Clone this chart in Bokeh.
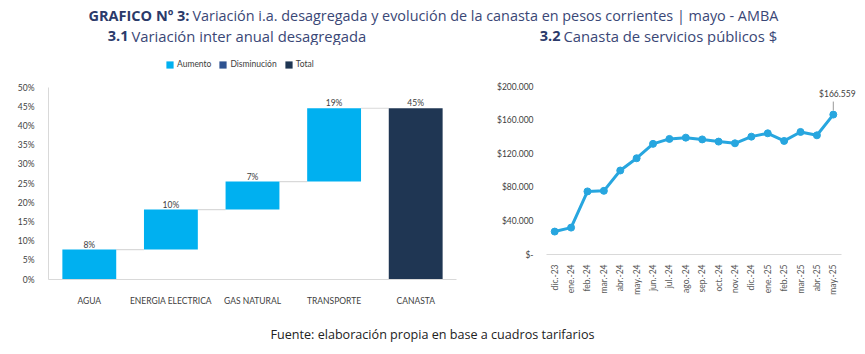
from math import pi
from bokeh.plotting import figure
from bokeh.layouts import column, row
from bokeh.models import (ColumnDataSource, FactorRange, Range1d, Legend, LegendItem,
                          FixedTicker, PrintfTickFormatter, Label)
from bokeh.transform import dodge
from bokeh.core.properties import value
from bokeh.embed import file_html
from bokeh.resources import INLINE

# ---------------- data ----------------
categories = ["AGUA", "ENERGIA ELECTRICA", "GAS NATURAL", "TRANSPORTE"]
increments = [7.8, 10.4, 7.3, 19.1]
decreases = [0, 0, 0, 0]
total_category = "CANASTA"
inc_labels = ["8%", "10%", "7%", "19%"]
total_label = "45%"
y_ticks_pct = [0, 5, 10, 15, 20, 25, 30, 35, 40, 45, 50]

months = ["dic.-23", "ene.-24", "feb.-24", "mar.-24", "abr.-24", "may.-24", "jun.-24",
          "jul.-24", "ago.-24", "sep.-24", "oct.-24", "nov.-24", "dic.-24", "ene.-25",
          "feb.-25", "mar.-25", "abr.-25", "may.-25"]
canasta = [27300, 32000, 75100, 75800, 100000, 114600, 131700, 137600, 139100, 137000,
           134400, 132400, 140300, 144300, 135200, 145900, 141900, 166559]
money_ticks = [0, 40000, 80000, 120000, 160000, 200000]
money_labels = ["$-", "$40.000", "$80.000", "$120.000", "$160.000", "$200.000"]
last_label = "$166.559"

# ---------------- styles ----------------
TITLE_FONT = value("Open Sans")
XL_FONT = value("Lato")
NAVY = "#2b3a6a"
NAVY_REG = "#3a4776"
C_AUM = "#00b0f0"
C_DIS = "#2e5391"
C_TOT = "#1f3653"
C_LINE = "#27a6df"
TXT = "#404040"

def blank(fig):
    fig.axis.visible = False
    fig.grid.visible = False
    fig.outline_line_color = None

# ---------------- header ----------------
hdr = figure(width=865, height=45, x_range=Range1d(0, 865), y_range=Range1d(45, 0),
             output_backend="svg", toolbar_location=None, min_border=0)
blank(hdr)
hdr.text(x=[189], y=[14.5], text=["GRAFICO Nº 3:"],
         text_align="right", text_baseline="middle", text_font=TITLE_FONT,
         text_font_style="bold", text_font_size="14.5px", text_color=NAVY)
hdr.text(x=[192], y=[14.5],
         text=["Variación i.a. desagregada y evolución de la canasta en pesos corrientes | mayo - AMBA"],
         text_align="left", text_baseline="middle", text_font=TITLE_FONT,
         text_font_size="14.4px", text_color=NAVY_REG)
hdr.text(x=[128, 560], y=[35, 35], text=["3.1", "3.2"],
         text_align="right", text_baseline="middle", text_font=TITLE_FONT,
         text_font_style="bold", text_font_size="14.5px", text_color=NAVY)
hdr.text(x=[131, 563], y=[35, 35],
         text=["Variación inter anual desagregada", "Canasta de servicios públicos $"],
         text_align="left", text_baseline="middle", text_font=TITLE_FONT,
         text_font_size="14.8px", text_color=NAVY_REG)

# ---------------- left waterfall ----------------
all_cats = categories + [total_category]
bottoms, tops = [], []
acc = 0.0
for v in increments:
    bottoms.append(acc)
    acc += v
    tops.append(acc)
total_value = acc

# frame extends above the 50% line so that the legend sits inside it
L_TOP, L_BOTTOM, L_AXIS_TOP = 10, 36, 42          # px inside the 270-high figure
frame_h = 270 - L_TOP - L_BOTTOM
y_top_val = 50 * frame_h / (270 - L_AXIS_TOP - L_BOTTOM)

pL = figure(width=470, height=270, x_range=FactorRange(factors=all_cats, range_padding=0),
            y_range=Range1d(0, y_top_val), output_backend="svg", toolbar_location=None,
            min_border_left=48, min_border_right=14, min_border_top=L_TOP,
            min_border_bottom=L_BOTTOM)
pL.grid.visible = False
pL.outline_line_color = None

src_inc = ColumnDataSource(dict(cat=categories, bottom=bottoms, top=tops, label=inc_labels))
src_tot = ColumnDataSource(dict(cat=[total_category], bottom=[0], top=[total_value], label=[total_label]))
src_con = ColumnDataSource(dict(cat=categories, nxt=all_cats[1:], level=tops))
# "Disminución" series: no decreases (zero-height bars)
src_dis = ColumnDataSource(dict(cat=categories, bottom=tops,
                                top=[t - d for t, d in zip(tops, decreases)]))

pL.segment(x0=dodge("cat", 0.33, range=pL.x_range), y0="level",
           x1=dodge("nxt", -0.33, range=pL.x_range), y1="level",
           source=src_con, line_color="#d9d9d9", line_width=1.2)
r_aum = pL.vbar(x="cat", bottom="bottom", top="top", width=0.66, source=src_inc,
                fill_color=C_AUM, line_color=None)
r_dis = pL.vbar(x="cat", bottom="bottom", top="top", width=0.66, source=src_dis,
                fill_color=C_DIS, line_color=None)
r_tot = pL.vbar(x="cat", bottom="bottom", top="top", width=0.66, source=src_tot,
                fill_color=C_TOT, line_color=None)
for s in (src_inc, src_tot):
    pL.text(x="cat", y="top", text="label", source=s, text_align="center",
            text_baseline="alphabetic", y_offset=-5, text_font=XL_FONT,
            text_font_size="8.5px", text_color=TXT)

pL.xaxis.axis_line_color = "#d9d9d9"
pL.xaxis.major_tick_line_color = None
pL.xaxis.minor_tick_line_color = None
pL.xaxis.major_label_standoff = 10
pL.xaxis.major_label_text_font = "Lato"
pL.xaxis.major_label_text_font_size = "8.5px"
pL.xaxis.major_label_text_color = TXT
pL.yaxis.ticker = FixedTicker(ticks=y_ticks_pct)
pL.yaxis.formatter = PrintfTickFormatter(format="%d%%")
pL.yaxis.bounds = (0, 50)
pL.yaxis.axis_line_color = "#d9d9d9"
pL.yaxis.major_tick_line_color = None
pL.yaxis.minor_tick_line_color = None
pL.yaxis.major_label_standoff = 8
pL.yaxis.major_label_text_font = "Lato"
pL.yaxis.major_label_text_font_size = "8.5px"
pL.yaxis.major_label_text_color = TXT

legend = Legend(items=[LegendItem(label="Aumento", renderers=[r_aum]),
                       LegendItem(label="Disminución", renderers=[r_dis]),
                       LegendItem(label="Total", renderers=[r_tot])],
                orientation="horizontal", location=(117, frame_h - 14),
                glyph_width=9, glyph_height=9, label_text_font="Lato",
                label_text_font_size="8.5px", label_text_color=TXT,
                label_standoff=3, spacing=7, padding=0, margin=0,
                border_line_color=None, background_fill_alpha=0,
                label_height=10)
pL.add_layout(legend, "center")

# ---------------- right line ----------------
idx = list(range(len(months)))
frame_left_px, frame_right_px = 76, 5           # borders of the right figure
frame_w = 395 - frame_left_px - frame_right_px
px_per_month = 295 / len(months)                  # axis span of the months in px
x_start = -0.5
x_end = x_start + frame_w / px_per_month

pR = figure(width=395, height=270, x_range=Range1d(x_start, x_end),
            y_range=Range1d(0, 200000), output_backend="svg", toolbar_location=None,
            min_border_left=frame_left_px, min_border_right=frame_right_px,
            min_border_top=41, min_border_bottom=61)
pR.grid.visible = False
pR.outline_line_color = None
src_line = ColumnDataSource(dict(m=idx, v=canasta))
pR.line(x="m", y="v", source=src_line, line_color=C_LINE, line_width=3)
pR.scatter(x="m", y="v", source=src_line, size=7, fill_color=C_LINE, line_color=C_LINE)

pR.segment(x0=[idx[-1]], y0=[canasta[-1] + 5000], x1=[idx[-1]], y1=[canasta[-1] + 15500],
           line_color="#7f7f7f", line_width=0.8)
pR.add_layout(Label(x=idx[-1], y=canasta[-1], text=last_label, x_offset=4, y_offset=21,
                    text_align="center", text_baseline="middle", text_font="Lato",
                    text_font_size="8.5px", text_color=TXT))

pR.xaxis.ticker = FixedTicker(ticks=idx)
pR.xaxis.major_label_overrides = {i: m for i, m in zip(idx, months)}
pR.xaxis.bounds = (-0.5, len(months) - 0.5)
pR.xaxis.axis_line_color = "#d9d9d9"
pR.xaxis.major_tick_line_color = None
pR.xaxis.minor_tick_line_color = None
pR.xaxis.major_label_orientation = pi / 2
pR.xaxis.major_label_standoff = 4
pR.xaxis.major_label_text_font = "Lato"
pR.xaxis.major_label_text_font_size = "8.5px"
pR.xaxis.major_label_text_color = "#595959"
pR.yaxis.ticker = FixedTicker(ticks=money_ticks)
pR.yaxis.major_label_overrides = {t: l for t, l in zip(money_ticks, money_labels)}
pR.yaxis.axis_line_color = None
pR.yaxis.major_tick_line_color = None
pR.yaxis.minor_tick_line_color = None
pR.yaxis.major_label_standoff = 7
pR.yaxis.major_label_text_font = "Lato"
pR.yaxis.major_label_text_font_size = "8.5px"
pR.yaxis.major_label_text_color = TXT

# ---------------- footer ----------------
ftr = figure(width=865, height=39, x_range=Range1d(0, 865), y_range=Range1d(39, 0),
             output_backend="svg", toolbar_location=None, min_border=0)
blank(ftr)
ftr.text(x=[432], y=[19], text=["Fuente: elaboración propia en base a cuadros tarifarios"],
         text_align="center", text_baseline="middle", text_font=TITLE_FONT,
         text_font_size="12.6px", text_color="#222222")

# each chart is wrapped on its own so that the row does not align their frames
p = column(hdr, row(column(pL), column(pR), spacing=0), ftr, spacing=0)
open("out.html", "w").write(file_html(p, INLINE))
